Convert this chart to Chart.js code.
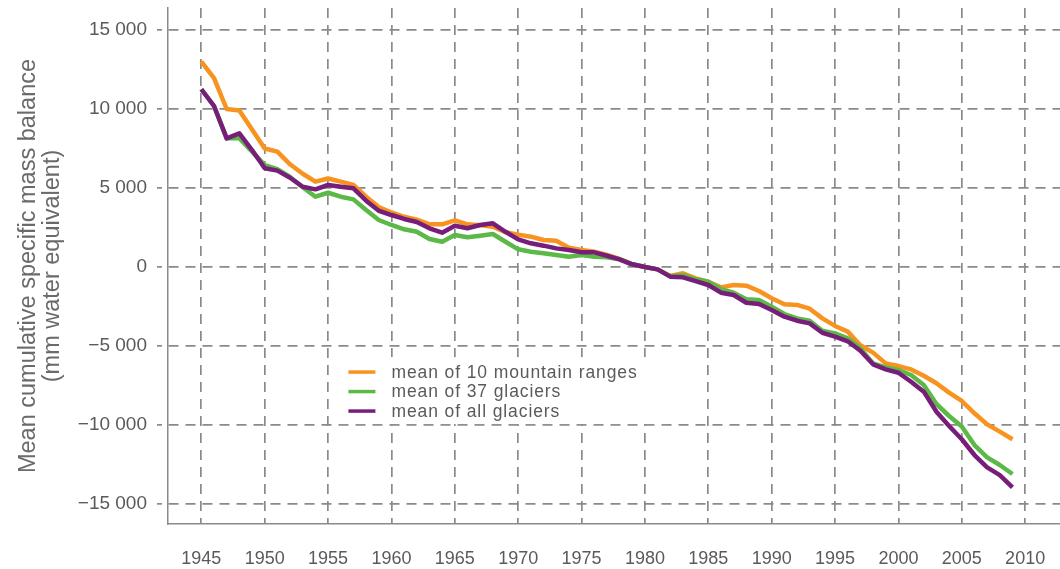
<!DOCTYPE html>
<html>
<head>
<meta charset="utf-8">
<script src="https://cdn.jsdelivr.net/npm/chart.js@4/dist/chart.umd.min.js"></script>
<style>
  html, body { margin: 0; padding: 0; background: #fff; }
  #wrap { width: 1060px; height: 569px; position: relative; }
</style>
</head>
<body>
<div id="wrap"><canvas id="mass-balance-chart"></canvas></div>
<script>
const years = [
    1945, 1946, 1947, 1948, 1949, 1950, 1951, 1952, 1953, 1954,
    1955, 1956, 1957, 1958, 1959, 1960, 1961, 1962, 1963, 1964,
    1965, 1966, 1967, 1968, 1969, 1970, 1971, 1972, 1973, 1974,
    1975, 1976, 1977, 1978, 1979, 1980, 1981, 1982, 1983, 1984,
    1985, 1986, 1987, 1988, 1989, 1990, 1991, 1992, 1993, 1994,
    1995, 1996, 1997, 1998, 1999, 2000, 2001, 2002, 2003, 2004,
    2005, 2006, 2007, 2008, 2009
];

// mean of 10 mountain ranges
const mountainRanges = [
    13000, 11950, 10000, 9900, 8700, 7500, 7300, 6500, 5900, 5400,
    5600, 5400, 5200, 4450, 3800, 3450, 3180, 3000, 2700, 2700,
    2950, 2700, 2650, 2550, 2200, 2050, 1920, 1710, 1665, 1220,
    1075, 970, 760, 506, 170, 0, -150, -570, -400, -715,
    -930, -1290, -1140, -1180, -1520, -1980, -2360, -2400, -2640, -3250,
    -3730, -4090, -4950, -5420, -6100, -6270, -6480, -6880, -7360, -7950,
    -8480, -9260, -9960, -10420, -10900
];

// mean of 37 glaciers
const glaciers37 = [
    11250, 10190, 8145, 8150, 7300, 6450, 6200, 5700, 5050, 4450,
    4700, 4450, 4280, 3610, 2975, 2660, 2385, 2235, 1770, 1600,
    2025, 1880, 1980, 2090, 1600, 1120, 970, 865, 760, 650,
    760, 650, 610, 485, 170, 0, -150, -580, -520, -780,
    -930, -1410, -1625, -2045, -2090, -2510, -2975, -3250, -3400, -4030,
    -4200, -4510, -5150, -6100, -6350, -6520, -6835, -7470, -8670, -9430,
    -10100, -11270, -12050, -12530, -13100
];

// mean of all glaciers
const allGlaciers = [
    11250, 10190, 8145, 8460, 7400, 6245, 6100, 5650, 5080, 4915,
    5190, 5080, 4980, 4200, 3560, 3290, 3040, 2850, 2450, 2170,
    2615, 2450, 2660, 2765, 2230, 1750, 1500, 1350, 1180, 1075,
    930, 930, 715, 485, 170, 0, -150, -610, -650, -900,
    -1140, -1625, -1770, -2260, -2340, -2720, -3145, -3400, -3565, -4160,
    -4410, -4700, -5300, -6160, -6480, -6690, -7260, -7890, -9160, -10060,
    -10900, -11900, -12680, -13170, -13940
];

const xTicks = [1945, 1950, 1955, 1960, 1965, 1970, 1975, 1980, 1985, 1990, 1995, 2000, 2005, 2010];
const yTicks = [-15000, -10000, -5000, 0, 5000, 10000, 15000];

const gridColor = '#8a8a8a';
const textColor = '#5a5a5a';
const fontFamily = '"Liberation Sans", Arial, sans-serif';

const toPoints = (values) => values.map((v, i) => ({ x: years[i], y: v }));

const formatThousands = (value) => {
    const abs = Math.abs(value);
    let s = String(abs);
    if (abs >= 1000) {
        s = s.slice(0, s.length - 3) + ' ' + s.slice(s.length - 3);
    }
    return (value < 0 ? '\u2212' : '') + s;
};

// legend box drawn inside the plot, on white
const insideLegend = {
    id: 'insideLegend',
    afterDatasetsDraw(chart) {
        const ctx = chart.ctx;
        const x = chart.scales.x.getPixelForValue(1955.5);
        const y = chart.scales.y.getPixelForValue(-5700);
        ctx.save();
        ctx.fillStyle = '#ffffff';
        ctx.fillRect(x, y, 333, 67);
        ctx.font = '17.5px ' + fontFamily;
        ctx.letterSpacing = '0.9px';
        ctx.textBaseline = 'middle';
        chart.data.datasets.forEach((ds, i) => {
            const rowY = y + 15 + i * 19.5;
            ctx.strokeStyle = ds.borderColor;
            ctx.lineWidth = 3.5;
            ctx.beginPath();
            ctx.moveTo(x + 14, rowY);
            ctx.lineTo(x + 41, rowY);
            ctx.stroke();
            ctx.fillStyle = textColor;
            ctx.fillText(ds.label, x + 57, rowY + 1);
        });
        ctx.restore();
    }
};

new Chart(document.getElementById('mass-balance-chart'), {
    type: 'line',
    data: {
        datasets: [
            {
                label: 'mean of 10 mountain ranges',
                data: toPoints(mountainRanges),
                borderColor: '#f7931e',
                order: 3
            },
            {
                label: 'mean of 37 glaciers',
                data: toPoints(glaciers37),
                borderColor: '#5cb947',
                order: 2
            },
            {
                label: 'mean of all glaciers',
                data: toPoints(allGlaciers),
                borderColor: '#771d7a',
                order: 1
            }
        ]
    },
    options: {
        responsive: true,
        maintainAspectRatio: false,
        animation: false,
        layout: {
            padding: { top: 8, right: 0, bottom: 0, left: 0 }
        },
        elements: {
            line: { borderWidth: 4.5, tension: 0, fill: false, borderJoinStyle: 'round' },
            point: { radius: 0 }
        },
        scales: {
            x: {
                type: 'linear',
                min: 1942.37,
                max: 2012.75,
                afterFit: (scale) => {
                    scale.height = 45;
                    scale.paddingLeft = 0;
                    scale.paddingRight = 0;
                },
                afterBuildTicks: (scale) => { scale.ticks = xTicks.map(v => ({ value: v })); },
                grid: {
                    color: gridColor,
                    lineWidth: 1.7,
                    drawTicks: false
                },
                border: { display: true, color: '#8a8a8a', width: 1.5, dash: [10, 7] },
                ticks: {
                    color: textColor,
                    font: { family: fontFamily, size: 18 },
                    padding: 24,
                    maxRotation: 0,
                    callback: (value) => String(value)
                }
            },
            y: {
                min: -16265,
                max: 16392,
                afterFit: (scale) => {
                    scale.width = 168;
                    scale.paddingTop = 0;
                    scale.paddingBottom = 0;
                },
                afterBuildTicks: (scale) => { scale.ticks = yTicks.map(v => ({ value: v })); },
                grid: {
                    color: gridColor,
                    lineWidth: 1.7,
                    tickLength: 11,
                    tickBorderDash: [5, 6]
                },
                border: { display: true, color: '#8a8a8a', width: 1.5, dash: [10, 7] },
                ticks: {
                    color: textColor,
                    font: { family: fontFamily, size: 19 },
                    padding: 10,
                    callback: (value) => formatThousands(value)
                },
                title: {
                    display: true,
                    text: ['Mean cumulative specific mass balance', '(mm water equivalent)'],
                    color: '#6a6a6a',
                    font: { family: fontFamily, size: 23.5, lineHeight: 1.05 },
                    padding: { top: 16, bottom: 0 }
                }
            }
        },
        plugins: {
            legend: { display: false },
            tooltip: { enabled: false }
        }
    },
    plugins: [insideLegend]
});
</script>
</body>
</html>
